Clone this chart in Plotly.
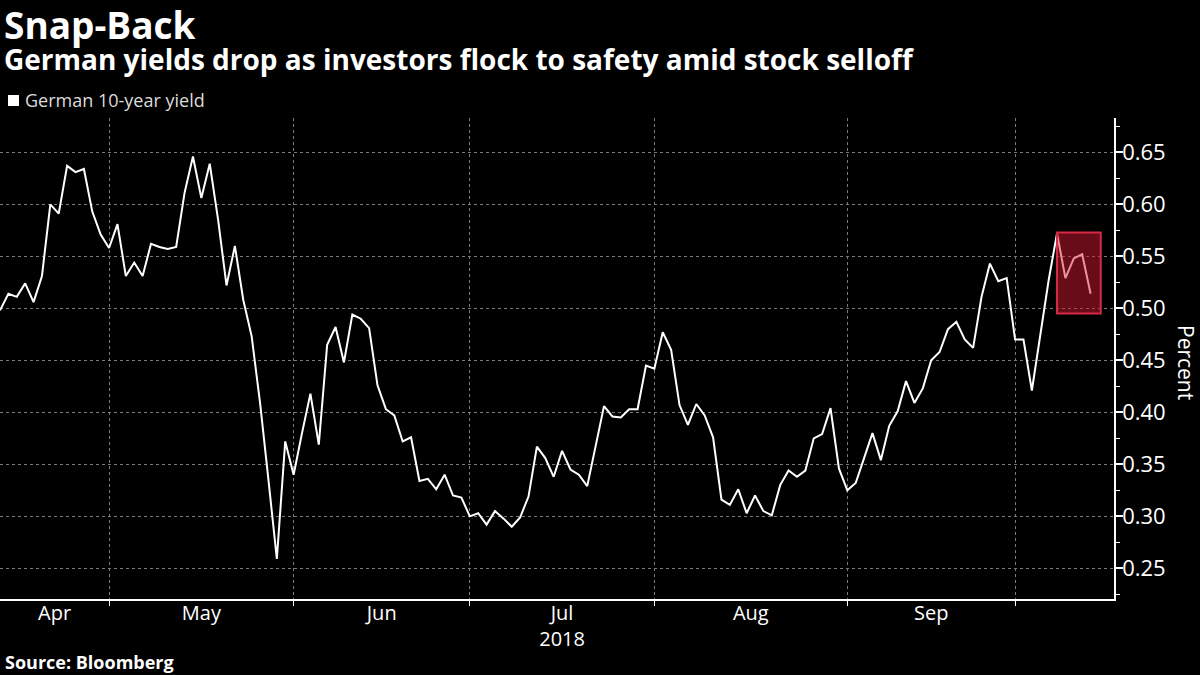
import pandas as pd
import plotly.graph_objects as go

# German 10-year yield, daily (business days, May 1 closed)
start_date = "2018-04-11"
end_date = "2018-10-11"
holidays = ["2018-05-01"]
dates = pd.bdate_range(start_date, end_date, freq="C", holidays=holidays)

yield_10y = [
    0.498, 0.514, 0.511, 0.524, 0.506, 0.531, 0.600, 0.591, 0.637, 0.631,
    0.634, 0.593, 0.571, 0.558, 0.581, 0.531, 0.544, 0.531, 0.562, 0.559,
    0.557, 0.559, 0.611, 0.646, 0.606, 0.639, 0.585, 0.522, 0.560, 0.508,
    0.473, 0.409, 0.335, 0.259, 0.372, 0.340, 0.380, 0.418, 0.369, 0.465,
    0.482, 0.448, 0.494, 0.490, 0.481, 0.426, 0.403, 0.397, 0.372, 0.376,
    0.334, 0.336, 0.326, 0.340, 0.320, 0.318, 0.300, 0.303, 0.292, 0.305,
    0.298, 0.290, 0.299, 0.319, 0.367, 0.356, 0.338, 0.363, 0.345, 0.340,
    0.329, 0.367, 0.406, 0.396, 0.395, 0.403, 0.403, 0.445, 0.442, 0.477,
    0.460, 0.407, 0.388, 0.408, 0.397, 0.376, 0.316, 0.311, 0.326, 0.303,
    0.320, 0.305, 0.301, 0.330, 0.344, 0.338, 0.344, 0.375, 0.379, 0.404,
    0.346, 0.325, 0.332, 0.356, 0.380, 0.354, 0.387, 0.401, 0.430, 0.409,
    0.423, 0.450, 0.458, 0.480, 0.487, 0.470, 0.462, 0.511, 0.543, 0.526,
    0.529, 0.470, 0.470, 0.421, 0.473, 0.527, 0.572, 0.529, 0.548, 0.552,
    0.514,
]

month_labels = ["Apr", "May", "Jun", "Jul<br>2018", "Aug", "Sep"]

# highlighted snap-back window
box_x = ["2018-10-05", "2018-10-12 05:00"]
box_y = [0.495, 0.573]

FONT = "Open Sans, Noto Sans, sans-serif"

s = pd.Series(range(len(dates)), index=dates)
# month separators sit on the last trading day of each month
month_ends = [s[s.index.month == m].index[-1] for m in range(4, 10)]
bounds = [0] + [int(s[d]) for d in month_ends]


def at_index(pos):
    i = int(pos)
    return dates[i] + pd.Timedelta(days=pos - i)


label_pos = [at_index((bounds[k] + bounds[k + 1]) / 2) for k in range(len(month_labels))]

fig = go.Figure()
fig.add_trace(go.Scatter(
    x=dates, y=yield_10y, mode="lines",
    line=dict(color="white", width=2),
    showlegend=False,
))

fig.add_shape(
    type="rect", xref="x", yref="y",
    x0=box_x[0], x1=box_x[1], y0=box_y[0], y1=box_y[1],
    fillcolor="rgba(220,25,55,0.48)",
    line=dict(color="rgb(215,40,70)", width=2),
    layer="above",
)

# plot area in pixels: x 0..1114, y 118..599
PL, PR, PT, PB = 0, 1114, 118, 599


def px(x):
    return (x - PL) / (PR - PL)


def py(y):
    return (PB - y) / (PB - PT)


fig.add_shape(
    type="rect", xref="paper", yref="paper",
    x0=px(8), x1=px(19), y0=py(106), y1=py(95),
    fillcolor="white", line=dict(width=0),
)

annotations = [
    dict(text="<b>Snap-Back</b>", x=px(2), y=py(24), size=37, color="white"),
    dict(text="<b>German yields drop as investors flock to safety amid stock selloff</b>",
         x=px(2), y=py(59), size=28, color="white"),
    dict(text="German 10-year yield", x=px(23), y=py(100), size=18, color="#dcdcdc"),
    dict(text="<b>Source: Bloomberg</b>", x=px(3), y=py(662), size=18, color="white"),
]
for a in annotations:
    fig.add_annotation(
        text=a["text"], x=a["x"], y=a["y"], xref="paper", yref="paper",
        xanchor="left", yanchor="middle", showarrow=False,
        font=dict(family=FONT, size=a["size"], color=a["color"]),
    )

fig.add_annotation(
    text="Percent", x=px(1186), y=py(362), xref="paper", yref="paper",
    xanchor="center", yanchor="middle", showarrow=False, textangle=90,
    font=dict(family=FONT, size=21, color="white"),
)

fig.update_layout(
    width=1200, height=675,
    paper_bgcolor="black", plot_bgcolor="black",
    margin=dict(l=PL, r=1200 - PR, t=PT, b=675 - PB, pad=0),
    font=dict(family=FONT, color="white"),
    xaxis=dict(
        type="date",
        range=[dates[0], "2018-10-15 19:00"],
        rangebreaks=[dict(bounds=["sat", "mon"]), dict(values=holidays)],
        tickmode="array", tickvals=label_pos, ticktext=month_labels,
        ticks="", showgrid=False, ticklabelstandoff=-5,
        tickfont=dict(family=FONT, size=20, color="white"),
        showline=True, linecolor="white", linewidth=1.5,
        minor=dict(
            tickmode="array", tickvals=month_ends,
            ticks="outside", ticklen=5, tickcolor="white", tickwidth=1,
            showgrid=True, gridcolor="#7a7a7a", griddash="dot", gridwidth=1,
        ),
        zeroline=False, fixedrange=True,
    ),
    yaxis=dict(
        side="right",
        range=[0.2205, 0.683],
        tick0=0.25, dtick=0.05, tickformat=".2f",
        ticks="outside", ticklen=7, tickcolor="white", tickwidth=1.5,
        ticklabelstandoff=-5,
        tickfont=dict(family=FONT, size=22, color="white"),
        showline=True, linecolor="white", linewidth=1.5,
        showgrid=True, gridcolor="#7a7a7a", griddash="dot", gridwidth=1,
        minor=dict(dtick=0.025, ticks="outside", ticklen=4,
                   tickcolor="white", tickwidth=1, showgrid=False),
        zeroline=False, fixedrange=True,
    ),
)

fig.write_html("out.html", config={"displayModeBar": False},
               post_script="document.body.style.margin='0';")
